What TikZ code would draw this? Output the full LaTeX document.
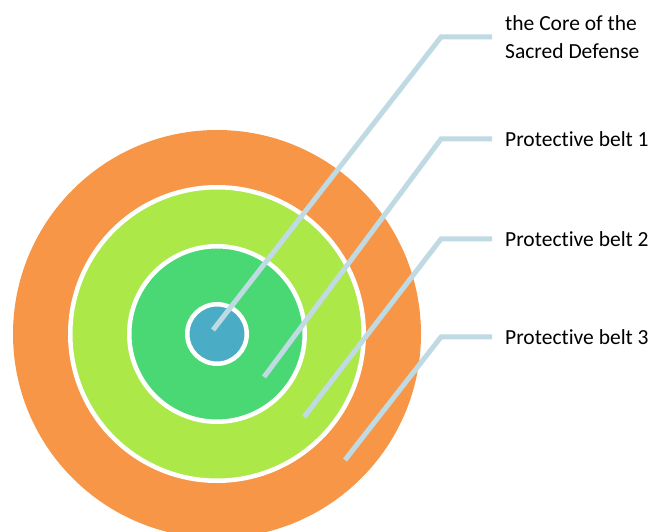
\documentclass[tikz,border=0pt]{standalone}
\usepackage{fontspec}
\setmainfont[Ligatures=NoCommon]{Carlito}
\usepackage{tikz}
\definecolor{orange500}{HTML}{F79646}
\definecolor{lime500}{HTML}{ACE948}
\definecolor{green500}{HTML}{49D873}
\definecolor{aqua500}{HTML}{4BACC6}
\definecolor{leader500}{HTML}{BFDAE3}
\usetikzlibrary{positioning}
\tikzstyle{ring}=[circle, draw=white, line width=4.5pt, inner sep=0pt]
\tikzstyle{leader}=[draw=leader500, line width=5pt]
\tikzstyle{beltlabel}=[anchor=west, inner sep=0pt, align=left, font=\fontsize{21.5}{28.5}\selectfont]

\begin{document}
\begin{tikzpicture}[x=1pt, y=-1pt]
	\useasboundingbox (0,0) rectangle (649,532);
	\node[circle, fill=orange500, inner sep=0pt, minimum size=408pt] (belt3) at (217,334){};
	\node[ring, fill=lime500, minimum size=293.5pt] (belt2) at (217,334){};
	\node[ring, fill=green500, minimum size=175.5pt] (belt1) at (217,334){};
	\node[ring, fill=aqua500, minimum size=59.5pt] (core) at (217,334){};
	\node[beltlabel] (lblCore) at (505,37){the Core of the\\Sacred Defense};
	\node[beltlabel] (lblBelt1) at (505,139){Protective belt 1};
	\node[beltlabel] (lblBelt2) at (505,239){Protective belt 2};
	\node[beltlabel] (lblBelt3) at (505,337){Protective belt 3};
	\coordinate (tipCore) at (213,330);
	\coordinate (tipBelt1) at (264,377);
	\coordinate (tipBelt2) at (304,417);
	\coordinate (tipBelt3) at (345,460);
	\path[leader] (tipCore) -- ([xshift=-64pt]lblCore.west) -- ([xshift=-13pt]lblCore.west);
	\path[leader] (tipBelt1) -- ([xshift=-64pt]lblBelt1.west) -- ([xshift=-13pt]lblBelt1.west);
	\path[leader] (tipBelt2) -- ([xshift=-64pt]lblBelt2.west) -- ([xshift=-13pt]lblBelt2.west);
	\path[leader] (tipBelt3) -- ([xshift=-64pt]lblBelt3.west) -- ([xshift=-13pt]lblBelt3.west);
\end{tikzpicture}
\end{document}
